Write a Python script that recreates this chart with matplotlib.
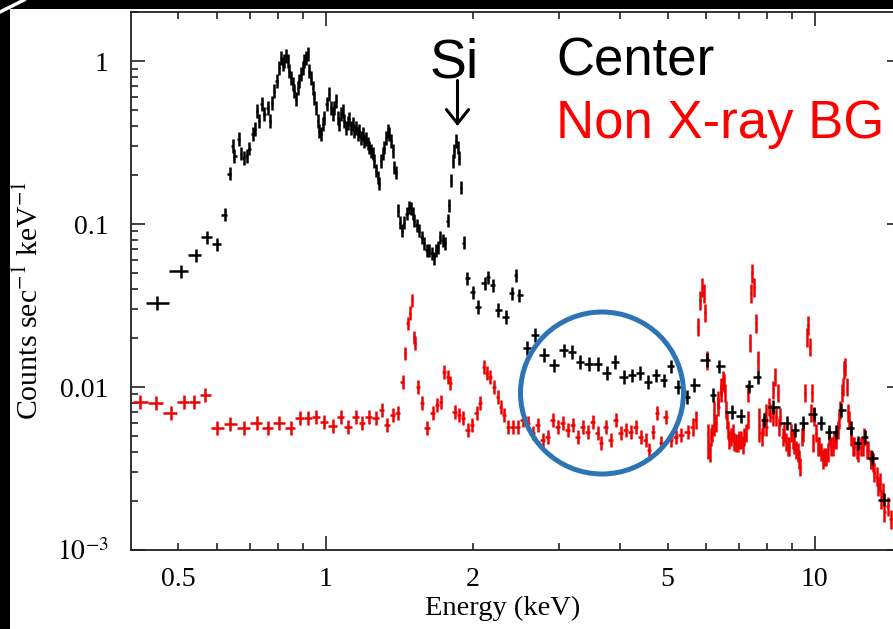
import numpy as np
import matplotlib
matplotlib.use("Agg")
import matplotlib.pyplot as plt
from matplotlib.patches import Rectangle, Ellipse
from matplotlib.lines import Line2D

plt.rcParams['font.family'] = ['Liberation Serif', 'DejaVu Serif']
plt.rcParams['mathtext.fontset'] = 'stix'

# ---------------- data ----------------
center_energy = [0.453, 0.505, 0.542, 0.571, 0.599, 0.624, 0.636, 0.645, 0.651, 0.664, 0.670, 0.680, 0.690, 0.696, 0.709, 0.716, 0.723, 0.730, 0.740, 0.747,
                 0.761, 0.768, 0.775, 0.783, 0.794, 0.802, 0.809, 0.817, 0.821, 0.828, 0.836, 0.840, 0.848, 0.856, 0.860, 0.868, 0.876, 0.881, 0.889, 0.897,
                 0.902, 0.910, 0.919, 0.923, 0.932, 0.941, 0.945, 0.954, 0.963, 0.968, 0.977, 0.986, 0.991, 1.005, 1.014, 1.024, 1.033, 1.038, 1.048, 1.058,
                 1.063, 1.073, 1.083, 1.088, 1.099, 1.109, 1.114, 1.125, 1.135, 1.141, 1.152, 1.163, 1.168, 1.179, 1.190, 1.196, 1.207, 1.219, 1.224, 1.236,
                 1.248, 1.254, 1.266, 1.277, 1.284, 1.296, 1.308, 1.314, 1.326, 1.339, 1.345, 1.358, 1.371, 1.377, 1.390, 1.404, 1.417, 1.430, 1.444, 1.464,
                 1.478, 1.492, 1.506, 1.514, 1.535, 1.550, 1.572, 1.587, 1.609, 1.624, 1.648, 1.663, 1.679, 1.694, 1.710, 1.735, 1.751, 1.776, 1.784, 1.801,
                 1.818, 1.827, 1.844, 1.862, 1.871, 1.888, 1.915, 1.942, 1.998, 2.046, 2.114, 2.145, 2.196, 2.248, 2.334, 2.401, 2.446, 2.481, 2.576, 2.676,
                 2.792, 2.926, 3.067, 3.184, 3.307, 3.450, 3.599, 3.755, 3.899, 4.068, 4.225, 4.386, 4.554, 4.730, 4.911, 5.077, 5.247, 5.474, 5.657, 6.015,
                 6.187, 6.364, 6.765, 7.058, 7.328, 7.645, 7.865, 8.206, 8.765, 9.101, 9.452, 9.954, 10.29, 10.68, 11.04, 11.30, 11.85, 12.24, 12.66, 13.08,
                 13.84]
center_counts = [0.0327, 0.0512, 0.0642, 0.0827, 0.0749, 0.1143, 0.2037, 0.302, 0.262, 0.333, 0.270, 0.255, 0.262, 0.290, 0.358, 0.384, 0.494, 0.430, 0.546, 0.474,
                 0.516, 0.430, 0.554, 0.655, 0.755, 0.906, 1.043, 0.959, 1.0, 1.073, 1.0, 0.869, 0.787, 0.723, 0.655, 0.586, 0.684, 0.755, 0.833, 0.906,
                 1.0, 1.043, 1.104, 0.869, 0.787, 0.684, 0.594, 0.516, 0.430, 0.373, 0.358, 0.412, 0.448, 0.546, 0.628, 0.516, 0.474, 0.516, 0.569, 0.448,
                 0.412, 0.474, 0.494, 0.430, 0.389, 0.418, 0.442, 0.389, 0.412, 0.373, 0.389, 0.358, 0.373, 0.338, 0.358, 0.324, 0.333, 0.311, 0.294, 0.2815,
                 0.270, 0.2445, 0.2124, 0.1925, 0.177, 0.2445, 0.270, 0.294, 0.338, 0.373, 0.358, 0.324, 0.2815, 0.2216, 0.2065, 0.121, 0.102, 0.0912, 0.102, 0.116,
                 0.126, 0.1244, 0.116, 0.105, 0.098, 0.0912, 0.0827, 0.076, 0.0689, 0.0689, 0.066, 0.0615, 0.0689, 0.0718, 0.0827, 0.0793, 0.076, 0.105, 0.130, 0.1845,
                 0.2445, 0.2815, 0.324, 0.294, 0.255, 0.167, 0.077, 0.0464, 0.0381, 0.0309, 0.0433, 0.0471, 0.042, 0.0296, 0.0268, 0.0376, 0.0484, 0.0365, 0.0173, 0.0208,
                 0.0157, 0.0136, 0.0168, 0.0164, 0.0142, 0.0138, 0.0138, 0.0122, 0.0142, 0.0115, 0.0118, 0.0122, 0.0107, 0.0118, 0.0110, 0.0134, 0.0100, 0.00869, 0.0103, 0.0146,
                 0.00894, 0.0134, 0.00703, 0.00665, 0.0101, 0.0115, 0.00628, 0.00755, 0.00603, 0.00546, 0.00603, 0.00684, 0.00603, 0.00531, 0.00531, 0.00723, 0.00561, 0.00454, 0.00494, 0.00368,
                 0.00204]

nxb_energy = [0.418, 0.449, 0.482, 0.513, 0.537, 0.568, 0.601, 0.636, 0.680, 0.723, 0.761, 0.802, 0.848, 0.885, 0.919, 0.954, 0.991, 1.033, 1.073, 1.109,
              1.152, 1.185, 1.224, 1.266, 1.302, 1.333, 1.371, 1.404, 1.437, 1.451, 1.472, 1.485, 1.500, 1.514, 1.521, 1.542, 1.572, 1.609, 1.655, 1.687,
              1.719, 1.743, 1.776, 1.793, 1.836, 1.871, 1.906, 1.951, 1.989, 2.036, 2.065, 2.104, 2.134, 2.164, 2.206, 2.248, 2.280, 2.312, 2.356, 2.412,
              2.470, 2.528, 2.588, 2.650, 2.713, 2.778, 2.844, 2.912, 2.981, 3.052, 3.125, 3.200, 3.276, 3.355, 3.434, 3.516, 3.599, 3.651, 3.737, 3.827,
              3.917, 4.012, 4.107, 4.205, 4.305, 4.408, 4.513, 4.577, 4.664, 4.753, 4.843, 4.959, 5.077, 5.197, 5.321, 5.500, 5.630, 5.710, 5.764, 5.819,
              5.874, 5.930, 5.957, 6.015, 6.043, 6.100, 6.158, 6.216, 6.275, 6.334, 6.424, 6.485, 6.546, 6.607, 6.670, 6.797, 6.894, 6.993, 7.126, 7.227,
              7.295, 7.364, 7.399, 7.433, 7.503, 7.574, 7.645, 7.681, 7.827, 7.939, 8.052, 8.206, 8.284, 8.402, 8.481, 8.643, 8.807, 8.932, 9.059, 9.231,
              9.318, 9.452, 9.541, 9.630, 9.676, 9.767, 9.860, 9.954, 10.05, 10.19, 10.38, 10.53, 10.68, 10.88, 11.04, 11.20, 11.36, 11.47, 11.52, 11.63,
              11.74, 11.96, 12.24, 12.54, 12.84, 13.02, 13.20, 13.45, 13.65, 13.84, 14.10, 14.30]
nxb_counts = [0.00810, 0.00798, 0.00693, 0.00810, 0.00810, 0.00894, 0.00561, 0.00594, 0.00561, 0.00603, 0.00561, 0.00603, 0.00561, 0.00646, 0.00646, 0.00655, 0.00611, 0.00577, 0.00655, 0.00569,
              0.00655, 0.00603, 0.00655, 0.00646, 0.00723, 0.00585, 0.00674, 0.00693, 0.0107, 0.0161, 0.0246, 0.0284, 0.0340, 0.0202, 0.0186, 0.0100, 0.00798, 0.00561, 0.00693, 0.00776,
              0.00810, 0.01235, 0.0115, 0.01058, 0.00703, 0.00674, 0.00646, 0.00546, 0.00585, 0.00693, 0.00798, 0.01325, 0.0122, 0.0115, 0.0100, 0.00869, 0.00755, 0.00674, 0.00569, 0.00569,
              0.00569, 0.00628, 0.00603, 0.00523, 0.00585, 0.00474, 0.00494, 0.00628, 0.00569, 0.00603, 0.00546, 0.00585, 0.00494, 0.00569, 0.00531, 0.00611, 0.00523, 0.00454, 0.00569, 0.00474,
              0.00628, 0.00523, 0.00546, 0.00531, 0.00569, 0.00494, 0.00474, 0.00412, 0.00531, 0.00693, 0.00454, 0.00655, 0.00474, 0.00494, 0.00509, 0.00531, 0.00569, 0.00628, 0.0233, 0.0340,
              0.0409, 0.0376, 0.0284, 0.0146, 0.00523, 0.00395, 0.00523, 0.00723, 0.00603, 0.0083, 0.0100, 0.0110, 0.00919, 0.00628, 0.00474, 0.00523, 0.00454, 0.00474, 0.00442, 0.00523,
              0.00919, 0.0186, 0.0376, 0.0498, 0.0409, 0.0246, 0.0146, 0.00655, 0.00569, 0.00693, 0.00755, 0.00655, 0.0115, 0.00919, 0.00655, 0.00523, 0.0043, 0.00523, 0.00442, 0.00395,
              0.00324, 0.00523, 0.00919, 0.0202, 0.0239, 0.0176, 0.00919, 0.00655, 0.00523, 0.0043, 0.00358, 0.00373, 0.00494, 0.0043, 0.00474, 0.00628, 0.00919, 0.0127, 0.0133, 0.0100,
              0.00628, 0.0043, 0.00395, 0.0043, 0.00412, 0.00358, 0.00298, 0.00245, 0.00204, 0.00170, 0.00185, 0.00154]

# additional, overlapping NXB bins in the crowded 6-14 keV band
nxb_extra_energy = [6.06, 6.129, 6.23, 6.35, 6.44, 6.516, 6.577, 6.639, 6.733, 6.829, 6.958, 7.058, 7.160, 7.31, 7.70, 7.80, 7.96, 8.08, 8.23, 8.322,
                    8.442, 8.602, 8.725, 8.849, 9.016, 9.145, 9.274, 9.43, 9.813, 9.93, 10.14, 10.27, 10.43, 10.63, 10.78, 10.94, 11.14, 11.25, 11.41, 11.68,
                    11.85, 12.02, 12.20, 12.42, 12.60, 12.80, 13.00, 13.15, 13.40, 13.60, 13.80]
nxb_extra_counts = [0.00412, 0.00494, 0.00569, 0.00755, 0.00919, 0.01058, 0.00723, 0.00546, 0.00494, 0.00461, 0.00454, 0.00474, 0.00494, 0.00628, 0.00523, 0.00494, 0.00569, 0.00693, 0.0096, 0.00655,
                    0.00569, 0.00494, 0.00461, 0.0043, 0.00474, 0.00412, 0.00358, 0.00494, 0.00693, 0.00454, 0.0043, 0.0040, 0.00373, 0.00395, 0.0043, 0.00474, 0.00546, 0.00723, 0.0100, 0.00693,
                    0.00494, 0.0043, 0.00412, 0.0043, 0.00494, 0.00412, 0.00358, 0.00343, 0.00282, 0.00259, 0.00225]

center_rel_err = 0.10         # relative half-size of the vertical error bars
nxb_rel_err_soft = 0.10       # below nxb_err_split keV
nxb_rel_err_hard = 0.14       # above nxb_err_split keV
nxb_err_split = 5.6

x_ticks_major = [1, 10]
x_ticks_minor = [0.5, 0.6, 0.7, 0.8, 0.9, 2, 3, 4, 5, 6, 7, 8, 9]
x_minor_labels = ['0.5', '', '', '', '', '2', '', '', '5', '', '', '', '']
y_ticks = [1e-3, 1e-2, 1e-1, 1]
y_tick_labels = [r'$10^{-3}$', '0.01', '0.1', '1']

assert len(center_energy) == len(center_counts)
assert len(nxb_energy) == len(nxb_counts)
assert len(nxb_extra_energy) == len(nxb_extra_counts)


def bin_halfwidths(energy):
    e = np.asarray(energy, float)
    le = np.log10(e)
    mids = (le[1:] + le[:-1]) / 2
    lo = np.concatenate([[le[0] - (mids[0] - le[0])], mids])
    hi = np.concatenate([mids, [le[-1] + (le[-1] - mids[-1])]])
    return np.vstack([e - 10 ** lo, 10 ** hi - e])


W, H = 893, 629
fig = plt.figure(figsize=(W / 100, H / 100), dpi=100)
fig.patch.set_facecolor('white')

ax = fig.add_axes([131 / W, 79 / H, 770 / W, 538 / H])
ax.set_xscale('log')
ax.set_yscale('log')
ax.set_xlim(0.4, 15)
ax.set_ylim(1e-3, 2)

# NXB (red)
nE = np.concatenate([nxb_energy, nxb_extra_energy])
nC = np.concatenate([nxb_counts, nxb_extra_counts])
order = np.argsort(nE, kind='stable')
nE, nC = nE[order], nC[order]
nrel = np.where(nE < nxb_err_split, nxb_rel_err_soft, nxb_rel_err_hard)
ax.errorbar(nE, nC, xerr=bin_halfwidths(nE), yerr=[nC * nrel / (1 + nrel), nC * nrel],
            fmt='none', ecolor='#ee0000', elinewidth=1.8, capsize=0, zorder=2)

# Center (black)
cE = np.asarray(center_energy, float)
cC = np.asarray(center_counts, float)
ax.errorbar(cE, cC, xerr=bin_halfwidths(cE),
            yerr=[cC * center_rel_err / (1 + center_rel_err), cC * center_rel_err],
            fmt='none', ecolor='black', elinewidth=1.8, capsize=0, zorder=3)

ax.set_xticks(x_ticks_major, labels=[str(t) for t in x_ticks_major])
ax.set_xticks(x_ticks_minor, labels=x_minor_labels, minor=True)
ax.set_yticks(y_ticks, labels=y_tick_labels)
ax.yaxis.set_minor_formatter(matplotlib.ticker.NullFormatter())

ax.tick_params(which='both', direction='in', top=True, right=True, width=1.2, color='#222222')
ax.tick_params(which='major', length=10)
ax.tick_params(which='minor', length=5)
ax.tick_params(axis='x', which='both', labelsize=20, pad=12)
ax.tick_params(axis='y', which='both', labelsize=20, pad=16)
for s in ax.spines.values():
    s.set_linewidth(1.3)
    s.set_color('#222222')

ax.set_xlabel('Energy (keV)', fontsize=20.5)
ax.xaxis.set_label_coords((503 - 131) / 770, -(596 - 550) / 538)
ax.set_ylabel(r'Counts sec$^{-1}$ keV$^{-1}$', fontsize=21.5)
ax.yaxis.set_label_coords(-(131 - 44) / 770, (550 - 300) / 538)

# annotations
sans = ['Liberation Sans', 'DejaVu Sans']
fig.text(430 / W, 1 - 78 / H, 'Si', fontsize=40, family=sans, color='black', va='baseline')
fig.text(556 / W, 1 - 76 / H, 'Center', fontsize=38, family=sans, color='black', va='baseline')
fig.text(556 / W, 1 - 138 / H, 'Non X-ray BG', fontsize=38, family=sans, color='#ff0000', va='baseline')
ax.annotate('', xy=(1.86, 0.40), xytext=(1.86, 0.76),
            arrowprops=dict(arrowstyle='->,head_length=0.5,head_width=0.4', lw=2.2,
                            color='black', mutation_scale=20, shrinkA=0, shrinkB=0))

fig.patches.append(Ellipse((602 / W, 1 - 393 / H), 163 / W, 162 / H, transform=fig.transFigure,
                           fill=False, edgecolor='#2E74B5', linewidth=3.6, zorder=10))

# slide frame around the picture
fig.patches.append(Rectangle((0, 1 - 9 / H), 1, 9 / H, transform=fig.transFigure,
                             facecolor='black', edgecolor='none', zorder=20))
fig.patches.append(Rectangle((0, 0), 10 / W, 1, transform=fig.transFigure,
                             facecolor='black', edgecolor='none', zorder=20))
fig.lines.append(Line2D([0, 24 / W], [1 - 12 / H, 1], transform=fig.transFigure,
                        color='white', lw=2.5, zorder=21))

fig.savefig('out.png', dpi=100)
